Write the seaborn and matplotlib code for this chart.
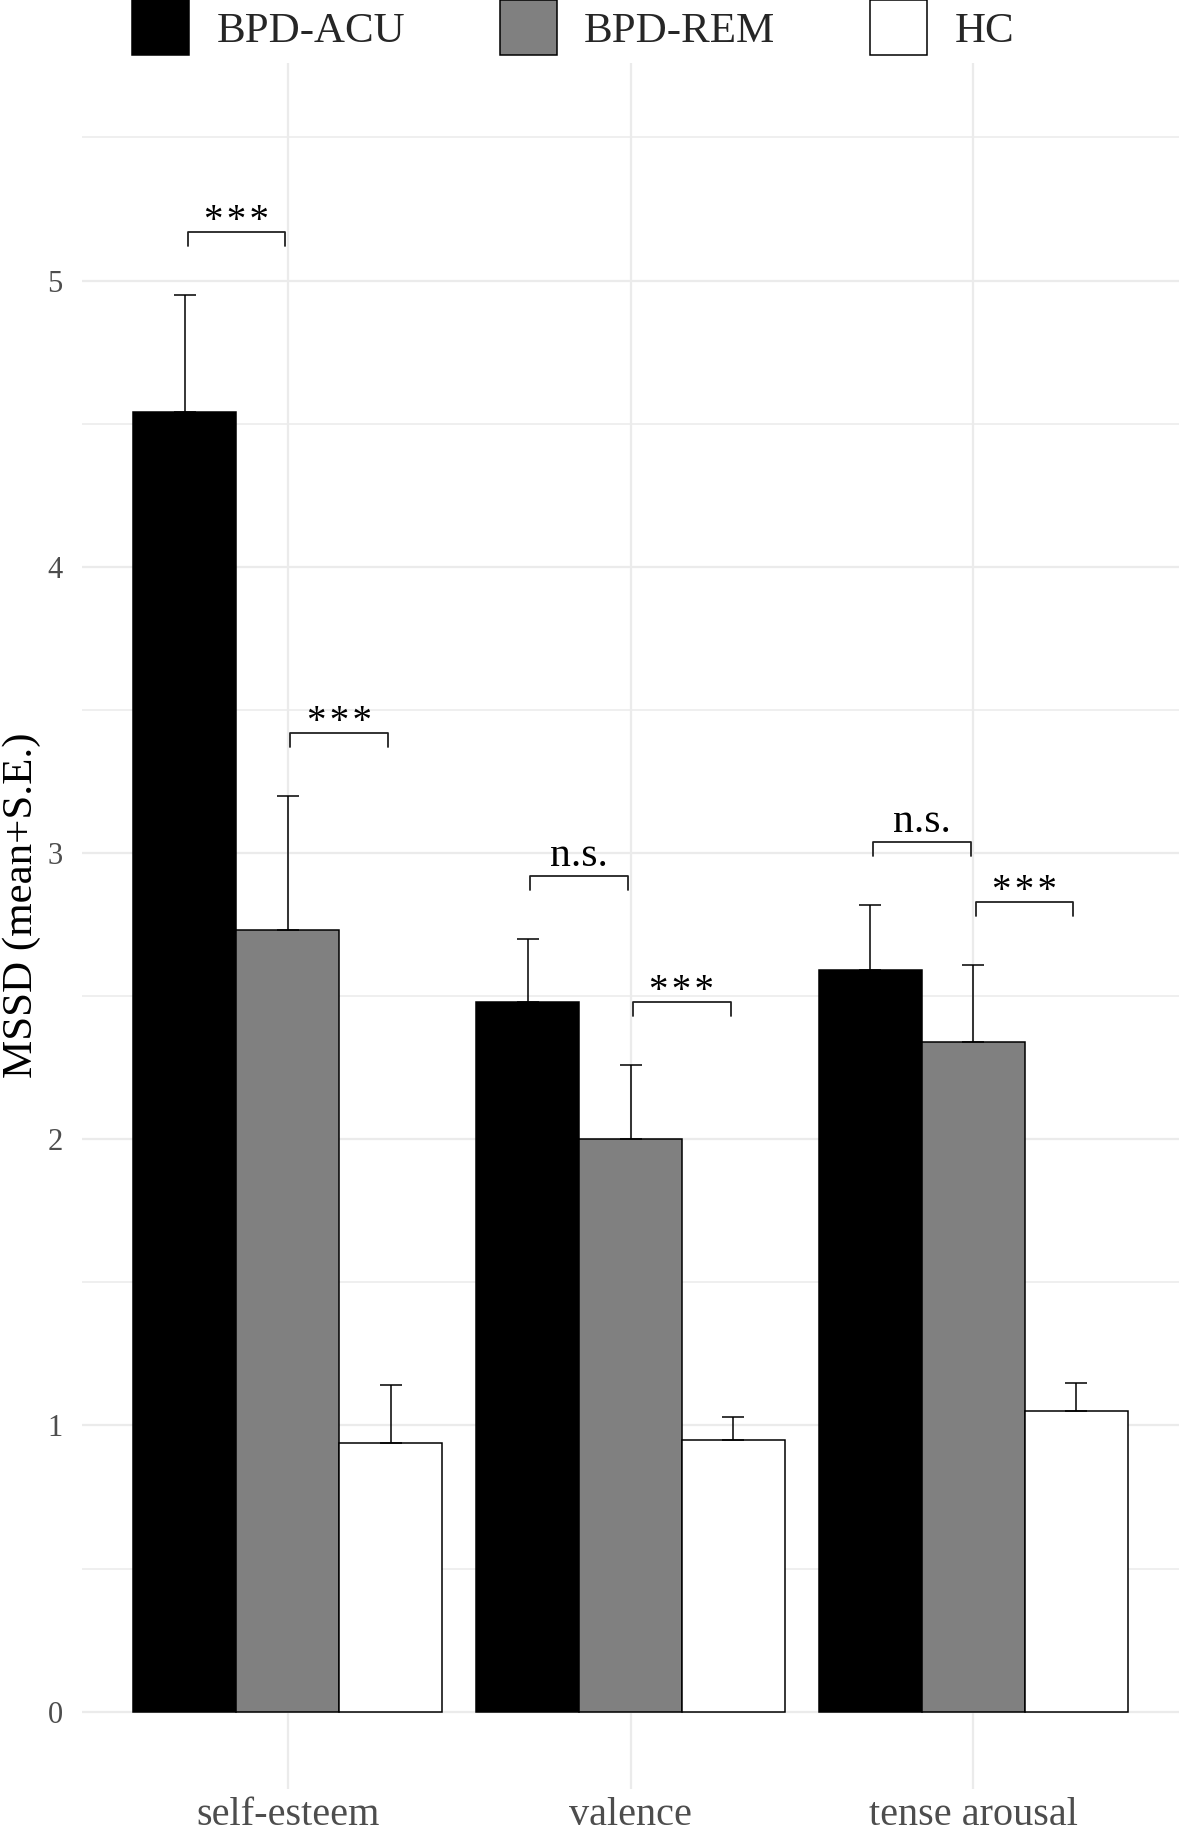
# grouped bar chart of MSSD per measure, with S.E. bars and significance brackets

import numpy as np
import pandas as pd
import seaborn as sns
import matplotlib.pyplot as plt
from matplotlib.ticker import MultipleLocator

# data
measures = ['self-esteem', 'valence', 'tense arousal']
groups = ['BPD-ACU', 'BPD-REM', 'HC']
colors = ['#000000', '#808080', '#ffffff']

acu_mean = [4.54, 2.48, 2.59]
rem_mean = [2.73, 2.00, 2.34]
hc_mean = [0.94, 0.95, 1.05]
acu_se = [0.41, 0.22, 0.23]
rem_se = [0.47, 0.26, 0.27]
hc_se = [0.20, 0.08, 0.10]

# (measure index, left group index, right group index, label)
sig_tests = [
    (0, 0, 1, '***'), (0, 1, 2, '***'),
    (1, 0, 1, 'n.s.'), (1, 1, 2, '***'),
    (2, 0, 1, 'n.s.'), (2, 1, 2, '***'),
]

means = [acu_mean, rem_mean, hc_mean]
ses = [acu_se, rem_se, hc_se]

df = pd.DataFrame({
    'measure': measures * 3,
    'group': np.repeat(groups, 3),
    'mssd': acu_mean + rem_mean + hc_mean,
})

sns.set_style('white')
plt.rcParams['font.family'] = ['Liberation Serif', 'DejaVu Serif']

fig = plt.figure(figsize=(11.81, 18.35), dpi=100)
ax = fig.add_axes([82 / 1181, 1 - 1789 / 1835, 1097 / 1181, (1789 - 63) / 1835])

sns.barplot(data=df, x='measure', y='mssd', hue='group', order=measures,
            hue_order=groups, palette=dict(zip(groups, colors)), width=0.9,
            errorbar=None, saturation=1, edgecolor='black', linewidth=1.1,
            legend=False, ax=ax)

bars = list(ax.containers)

# error bars (upper only)
for i, cont in enumerate(bars):
    xs = [b.get_x() + b.get_width() / 2 for b in cont]
    ys = [b.get_height() for b in cont]
    ax.errorbar(xs, ys, yerr=[np.zeros(len(ys)), ses[i]], fmt='none',
                ecolor='black', elinewidth=1.1, capsize=8, capthick=1.1, zorder=3)

# significance brackets
for m, a, b, lab in sig_tests:
    ba, bb = bars[a][m], bars[b][m]
    xa = ba.get_x() + ba.get_width() / 2 + 0.008
    xb = bb.get_x() + bb.get_width() / 2 - 0.008
    top = max(means[a][m] + ses[a][m], means[b][m] + ses[b][m]) + 0.22
    ax.plot([xa, xa, xb, xb], [top - 0.05, top, top, top - 0.05],
            color='#222222', lw=1.3, zorder=3)
    if lab == '***':
        ax.text((xa + xb) / 2, top + 0.004, '*\u200a*\u200a*', ha='center',
                va='baseline', fontsize=28, color='black')
    else:
        ax.text((xa + xb) / 2, top + 0.035, lab, ha='center', va='baseline',
                fontsize=30, color='black')

ax.set_xlim(-0.6, 2.6)
ax.set_ylim(-0.27, 5.76)
ax.yaxis.set_major_locator(MultipleLocator(1))
ax.yaxis.set_minor_locator(MultipleLocator(0.5))
ax.set_axisbelow(True)
ax.grid(which='major', color='#ebebeb', lw=1.6)
ax.grid(which='minor', axis='y', color='#ebebeb', lw=1.1)
for s in ax.spines.values():
    s.set_visible(False)

ax.tick_params(which='both', length=0)
ax.tick_params(axis='x', labelsize=29, labelcolor='#4d4d4d', pad=6)
ax.tick_params(axis='y', labelsize=22, labelcolor='#4d4d4d', pad=14)
ax.set_xlabel('')
ax.set_ylabel('MSSD (mean+S.E.)', fontsize=31, color='black')
ax.yaxis.set_label_coords(-0.037, 0.512)

fig.legend(handles=bars, labels=groups, loc='upper left',
           bbox_to_anchor=(132 / 1181, 1.0), ncol=3, frameon=False,
           fontsize=31, handlelength=1.33, handleheight=1.6,
           handletextpad=0.63, columnspacing=2.2, borderpad=0, borderaxespad=0)

plt.savefig('out.png', dpi=100)
